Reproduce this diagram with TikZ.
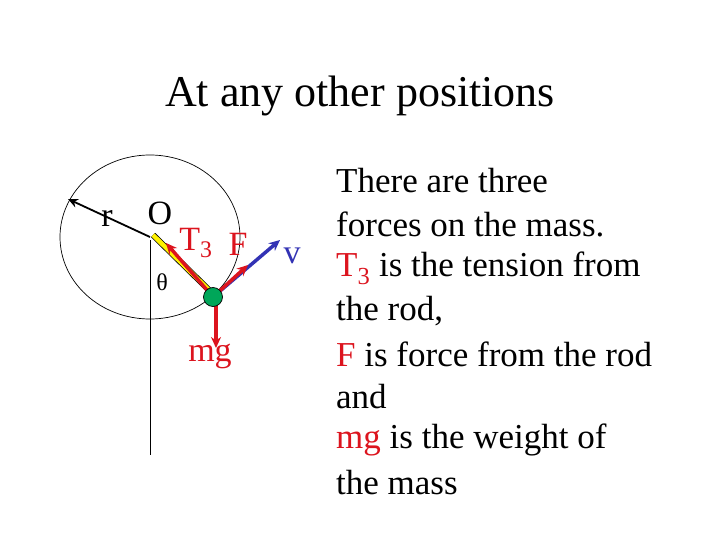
\documentclass[tikz,border=0pt]{standalone}
\usepackage{fontspec}
\setmainfont{Liberation Serif}
\usetikzlibrary{arrows.meta}
\definecolor{fred}{RGB}{220,20,30}
\definecolor{vblue}{RGB}{50,50,180}
\begin{document}
\begin{tikzpicture}[x=1pt,y=-1pt,
  lbl/.style={inner sep=0pt,font=\fontsize{34}{36}\selectfont},
  force/.style={draw=fred,line width=3.5pt,-{Stealth[length=11pt,width=10pt]}},
  body/.style={anchor=west,inner sep=0pt,font=\fontsize{35}{38}\selectfont}]
\useasboundingbox (0,0) rectangle (720,540);
\node[inner sep=0pt,font=\fontsize{44}{48}\selectfont] (title) at (360,96) {At any other positions};
\coordinate (O) at (150,237);
\draw[line width=0.7pt] (O) ellipse [x radius=90, y radius=82];
\coordinate (bot) at (150,455);
\draw[line width=1pt] (150,240) -- (bot);
\coordinate (rend) at (68,199);
\draw[line width=1.8pt,-{Stealth[length=10pt,width=9pt]}] (O) -- (rend);
\coordinate (M) at (213,297);
\draw[line width=6pt] (153,235) -- (210,291);
\draw[yellow,line width=4.5pt] (153,235) -- (210,291);
\coordinate (T3e) at (166,243);
\coordinate (Fe) at (248,265);
\coordinate (ve) at (280,240);
\coordinate (mge) at (216,348);
\draw[vblue,line width=3.5pt,-{Stealth[length=11pt,width=10pt]}] (M) -- (ve);
\draw[force] (M) -- (T3e);
\draw[force] (M) -- (Fe);
\draw[force] (216,300) -- (mge);
\node[circle,fill=teal!70!green,draw=black,line width=0.7pt,minimum size=19pt,inner sep=0pt] (mass) at (213,297) {};
\node[lbl] (r) at (107,218) {r};
\node[lbl] (Olbl) at (160,213) {O};
\node[lbl,text=fred] (T3) at (196,243) {T\textsubscript{3}};
\node[lbl,text=fred] (F) at (238,244) {F};
\node[lbl,text=vblue] (v) at (292,256) {v};
\node[inner sep=0pt,font=\fontsize{24}{26}\selectfont] (th) at (162,282) {θ};
\node[lbl,text=fred] (mg) at (210,356) {mg};
\node[body] (l1) at (336,181) {There are three};
\node[body] (l2) at (336,224) {forces on the mass.};
\node[body,text=fred] (l3) at (336,268) {T\textsubscript{3}\textcolor{black}{\ is the tension from}};
\node[body] (l4) at (336,311) {the rod,};
\node[body,text=fred] (l5) at (336,354) {F\textcolor{black}{\ is force from the rod}};
\node[body] (l6) at (336,397) {and};
\node[body,text=fred] (l7) at (336,440) {mg\textcolor{black}{\ is the weight of}};
\node[body] (l8) at (336,483) {the mass};
\end{tikzpicture}
\end{document}
